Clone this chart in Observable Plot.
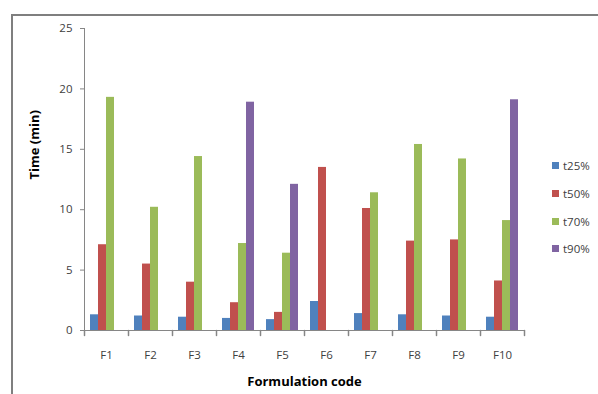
<!DOCTYPE html>
<html>
<head>
<meta charset="utf-8">
<script src="https://cdn.jsdelivr.net/npm/d3@7"></script>
<script src="https://cdn.jsdelivr.net/npm/@observablehq/plot@0.6"></script>
<style>
  html, body { margin: 0; padding: 0; background: #fff; }
  #wrap { position: relative; width: 598px; height: 394px; overflow: hidden; font-family: "Open Sans", sans-serif; }
  #border { position: absolute; left: 11px; top: 14px; width: 700px; height: 500px;
            border-left: 2px solid #7f7f7f; border-top: 2px solid #7f7f7f; }
  #legend { position: absolute; left: 552px; top: 152px; font-size: 11.5px; color: #404040; }
  #legend .item { height: 27.7px; display: flex; align-items: center; }
  #legend .sw { width: 7px; height: 7px; margin-right: 4px; }
</style>
</head>
<body>
<div id="wrap">
  <div id="border"></div>
  <div id="chart"></div>
  <div id="legend"></div>
</div>
<script>
// Formulation codes along the x axis
const codes = ["F1", "F2", "F3", "F4", "F5", "F6", "F7", "F8", "F9", "F10"];
// Release-time series and their colours
const series = ["t25%", "t50%", "t70%", "t90%"];
const colors = ["#4f81bd", "#c0504d", "#9bbb59", "#8064a2"];
// Times (min) per formulation; null where no value was recorded
const t25 = [1.3, 1.2, 1.1, 1.0, 0.9, 2.4, 1.4, 1.3, 1.2, 1.1];
const t50 = [7.1, 5.5, 4.0, 2.3, 1.5, 13.5, 10.1, 7.4, 7.5, 4.1];
const t70 = [19.3, 10.2, 14.4, 7.2, 6.4, null, 11.4, 15.4, 14.2, 9.1];
const t90 = [null, null, null, 18.9, 12.1, null, null, null, null, 19.1];
const yTicks = [0, 5, 10, 15, 20, 25];

const values = [t25, t50, t70, t90];
const rows = [];
codes.forEach((code, i) => {
  series.forEach((s, j) => {
    const v = values[j][i];
    if (v != null) rows.push({code, series: s, value: v});
  });
});

const axisColor = "#868686";
const textColor = "#404040";

// short downward tick at each category boundary
const tickShape = {draw(context, l) { context.moveTo(0, 0); context.lineTo(0, -l); }};

const chart = Plot.plot({
  width: 598,
  height: 394,
  marginLeft: 79,
  marginRight: 70,
  marginTop: 28,
  marginBottom: 64,
  style: {fontFamily: "Open Sans, sans-serif", color: textColor, background: "transparent"},
  fx: {domain: codes, padding: 0},
  x: {domain: series, paddingInner: 0, paddingOuter: 0.75, axis: null},
  y: {domain: [0, 25]},
  color: {domain: series, range: colors},
  marks: [
    Plot.barY(rows, {fx: "code", x: "series", y: "value", fill: "series", inset: 0}),
    Plot.frame({anchor: "left", stroke: axisColor, facet: "super"}),
    Plot.frame({anchor: "bottom", stroke: axisColor, facet: "super"}),
    Plot.vector(codes, {fx: d => d, frameAnchor: "bottom-left", length: 5, rotate: 180, anchor: "start", shape: tickShape, stroke: axisColor}),
    Plot.vector(codes.slice(-1), {fx: d => d, frameAnchor: "bottom-right", length: 5, rotate: 180, anchor: "start", shape: tickShape, stroke: axisColor}),
    Plot.axisY({ticks: yTicks, tickSize: 4, tickPadding: 8, stroke: axisColor, fill: textColor, fontSize: 11.5, label: null}),
    Plot.axisFx({anchor: "bottom", tickSize: 0, tickPadding: 20, fontSize: 11.5, fill: textColor, label: null}),
    Plot.text(["Time (min)"], {facet: "super", frameAnchor: "left", rotate: -90, dx: -50, fontSize: 13, fontWeight: "bold", fill: "#000"}),
    Plot.text(["Formulation code"], {facet: "super", frameAnchor: "bottom", dy: 55, fontSize: 13, fontWeight: "bold", fill: "#000"})
  ]
});
document.getElementById("chart").appendChild(chart);

// legend on the right
const legend = document.getElementById("legend");
series.forEach((s, i) => {
  const item = document.createElement("div");
  item.className = "item";
  const sw = document.createElement("span");
  sw.className = "sw";
  sw.style.background = colors[i];
  const label = document.createElement("span");
  label.textContent = s;
  item.appendChild(sw);
  item.appendChild(label);
  legend.appendChild(item);
});
</script>
</body>
</html>
